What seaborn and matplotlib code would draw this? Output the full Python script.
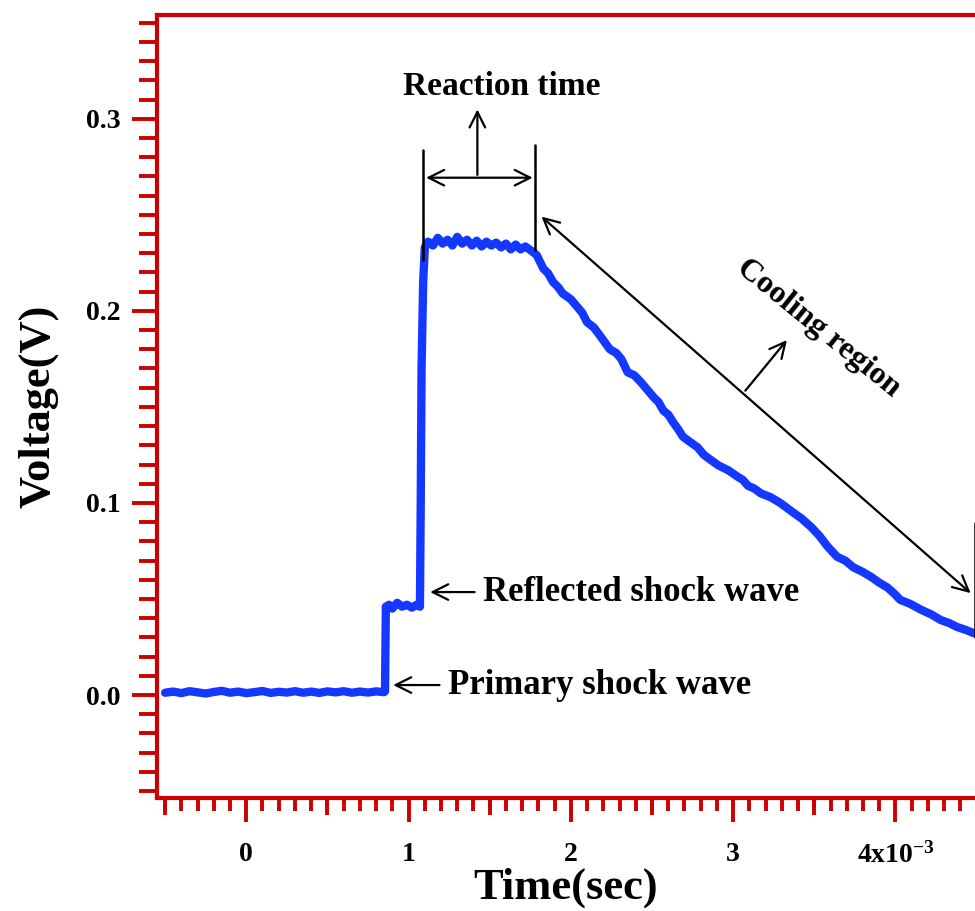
import numpy as np
import matplotlib
matplotlib.use('Agg')
import matplotlib.pyplot as plt
import seaborn as sns
from matplotlib.ticker import MultipleLocator, FixedLocator

# signal (time in ms, voltage in V)
time_ms = [-0.50, -0.45, -0.40, -0.35, -0.30, -0.25, -0.20, -0.15, -0.10, -0.05,
           0.00, 0.05, 0.10, 0.15, 0.20, 0.25, 0.30, 0.35, 0.40, 0.45,
           0.50, 0.55, 0.60, 0.65, 0.70, 0.75, 0.80, 0.85,
           0.855, 0.86, 0.88, 0.90, 0.93, 0.96, 0.99, 1.02, 1.05, 1.07,
           1.075, 1.08, 1.09, 1.10,
           1.12, 1.15, 1.18, 1.21, 1.24, 1.27, 1.30, 1.33, 1.36, 1.39,
           1.42, 1.45, 1.48, 1.51, 1.54, 1.57, 1.60, 1.63, 1.66, 1.69,
           1.72, 1.76,
           1.79, 1.83, 1.86, 1.89, 1.92, 1.95, 2.00, 2.04, 2.07, 2.10,
           2.14, 2.18, 2.21, 2.24, 2.28, 2.31, 2.35, 2.39, 2.43, 2.47,
           2.51, 2.54, 2.57, 2.60, 2.63, 2.66, 2.69, 2.73, 2.78, 2.82,
           2.86, 2.91, 2.97, 3.03, 3.06, 3.09, 3.13, 3.17, 3.23, 3.29,
           3.33, 3.37, 3.42, 3.48, 3.53, 3.58, 3.64, 3.69, 3.74, 3.80,
           3.85, 3.90, 3.95, 3.99, 4.03, 4.09, 4.16, 4.22, 4.28, 4.33,
           4.38, 4.43, 4.48, 4.52]
voltage = [0.0012, 0.0018, 0.0010, 0.0020, 0.0014, 0.0008, 0.0016, 0.0022, 0.0012, 0.0018,
           0.0010, 0.0015, 0.0021, 0.0011, 0.0017, 0.0013, 0.0020, 0.0012, 0.0018, 0.0011,
           0.0019, 0.0014, 0.0020, 0.0012, 0.0018, 0.0013, 0.0019, 0.0015,
           0.0020, 0.0460, 0.0470, 0.0450, 0.0480, 0.0460, 0.0470, 0.0455, 0.0470, 0.0460,
           0.1000, 0.1700, 0.2150, 0.2330,
           0.2360, 0.2340, 0.2380, 0.2350, 0.2370, 0.2340, 0.2385, 0.2350, 0.2370, 0.2340,
           0.2365, 0.2335, 0.2360, 0.2340, 0.2355, 0.2330, 0.2350, 0.2320, 0.2345, 0.2320,
           0.2335, 0.2310,
           0.2290, 0.2220, 0.2195, 0.2150, 0.2125, 0.2090, 0.2060, 0.2020, 0.1990, 0.1940,
           0.1915, 0.1870, 0.1835, 0.1800, 0.1780, 0.1750, 0.1680, 0.1665, 0.1630, 0.1590,
           0.1550, 0.1525, 0.1480, 0.1460, 0.1420, 0.1385, 0.1345, 0.1320, 0.1290, 0.1250,
           0.1225, 0.1195, 0.1170, 0.1135, 0.1120, 0.1090, 0.1075, 0.1050, 0.1030, 0.1000,
           0.0975, 0.0950, 0.0920, 0.0875, 0.0830, 0.0775, 0.0720, 0.0700, 0.0665, 0.0640,
           0.0615, 0.0585, 0.0560, 0.0530, 0.0495, 0.0475, 0.0443, 0.0420, 0.0390, 0.0375,
           0.0354, 0.0340, 0.0323, 0.0315]

xtick_vals = [0, 1, 2, 3, 4]
xtick_labels = ['0', '1', '2', '3', '4x10$^{-3}$']
ytick_vals = [0.0, 0.1, 0.2, 0.3]
ytick_labels = ['0.0', '0.1', '0.2', '0.3']

red = '#cc0000'
blue = '#1438ff'

sns.set_theme(style='white')
plt.rcParams['font.family'] = ['Liberation Serif', 'DejaVu Serif']
plt.rcParams['font.weight'] = 'bold'
plt.rcParams['text.color'] = 'black'
plt.rcParams['axes.labelcolor'] = 'black'
plt.rcParams['mathtext.fontset'] = 'custom'
plt.rcParams['mathtext.rm'] = 'Liberation Serif:bold'
plt.rcParams['mathtext.it'] = 'Liberation Serif:bold'
plt.rcParams['mathtext.bf'] = 'Liberation Serif:bold'

t = np.array(time_ms) * 1e-3
ms = 1e-3

fig = plt.figure(figsize=(9.75, 9.11), dpi=100)
ax = fig.add_axes([157 / 975, 1 - 798 / 911, 1 - 157 / 975, (798 - 15) / 911])

sns.lineplot(x=t, y=voltage, ax=ax, color=blue, linewidth=6, sort=False)

ax.set_xlim(-0.55 * ms, 4.49 * ms)
ax.set_ylim(-0.0536, 0.354)

for side in ['left', 'bottom', 'top']:
    ax.spines[side].set_color(red)
    ax.spines[side].set_linewidth(3)
ax.spines['right'].set_visible(False)

ax.set_xticks([v * ms for v in xtick_vals])
ax.set_xticklabels(xtick_labels)
ax.set_yticks(ytick_vals)
ax.set_yticklabels(ytick_labels)
ax.xaxis.set_minor_locator(MultipleLocator(0.1 * ms))
ax.yaxis.set_minor_locator(MultipleLocator(0.01))
ax.tick_params(axis='x', which='major', direction='out', length=17, width=2.8,
               color=red, labelcolor='black', labelsize=20, pad=15, bottom=True, top=False)
ax.tick_params(axis='x', which='minor', direction='out', length=9.5, width=2.8,
               color=red, bottom=True, top=False)
ax.tick_params(axis='y', which='major', direction='out', length=18, width=2.8,
               color=red, labelcolor='black', labelsize=20, pad=8, left=True, right=False)
ax.tick_params(axis='y', which='minor', direction='out', length=13, width=2.8,
               color=red, left=True, right=False)

# half-way ticks on the time axis are a bit longer
sec = ax.secondary_xaxis('bottom')
sec.xaxis.set_major_locator(FixedLocator([v * ms for v in [-0.5, 0.5, 1.5, 2.5, 3.5, 4.5]]))
sec.tick_params(length=12.5, width=2.8, color=red, labelbottom=False)
sec.spines['bottom'].set_visible(False)

ax.set_xlabel('Time(sec)', fontsize=32, fontweight='bold', labelpad=-1)
ax.set_ylabel('Voltage(V)', fontsize=32, fontweight='bold', labelpad=20)

arrow = dict(arrowstyle='->', color='black', lw=1.6, mutation_scale=28)
darrow = dict(arrowstyle='<->', color='black', lw=1.6, mutation_scale=28)

# reaction time marker
ax.plot([1.091 * ms, 1.091 * ms], [0.2266, 0.2839], color='black', lw=1.8)
ax.plot([1.782 * ms, 1.782 * ms], [0.2318, 0.2865], color='black', lw=1.8)
ax.annotate('', xy=(1.782 * ms, 0.2693), xytext=(1.091 * ms, 0.2693), arrowprops=darrow)
ax.annotate('', xy=(1.424 * ms, 0.3063), xytext=(1.424 * ms, 0.2693), arrowprops=arrow)
ax.text(1.572 * ms, 0.3167, 'Reaction time', fontsize=24, fontweight='bold',
        ha='center', va='center')

# cooling region
ax.annotate('', xy=(4.476 * ms, 0.0521), xytext=(1.806 * ms, 0.250), arrowprops=darrow)
ax.plot([4.488 * ms, 4.488 * ms], [0.0302, 0.0896], color='black', lw=1.8, clip_on=False)
ax.annotate('', xy=(3.342 * ms, 0.1859), xytext=(3.064 * ms, 0.1573), arrowprops=arrow)
ax.text(3.527 * ms, 0.1911, 'Cooling region', fontsize=23, fontweight='bold',
        ha='center', va='center', rotation=-39, rotation_mode='anchor')

# shock waves
ax.annotate('', xy=(1.116 * ms, 0.0536), xytext=(1.424 * ms, 0.0536), arrowprops=arrow)
ax.text(1.461 * ms, 0.0536, 'Reflected shock wave', fontsize=25, fontweight='bold',
        ha='left', va='center')
ax.annotate('', xy=(0.888 * ms, 0.0052), xytext=(1.208 * ms, 0.0052), arrowprops=arrow)
ax.text(1.245 * ms, 0.0052, 'Primary shock wave', fontsize=25, fontweight='bold',
        ha='left', va='center')

fig.savefig('out.png', dpi=100)
